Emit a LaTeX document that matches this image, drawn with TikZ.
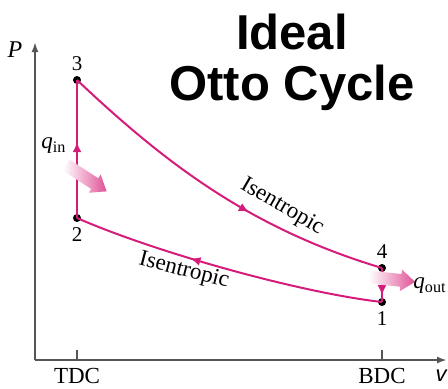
\documentclass[tikz,border=0pt]{standalone}
\usepackage{fontspec}
\setmainfont{Liberation Serif}
\setsansfont{Liberation Sans}
\usepackage{tikz}
\usetikzlibrary{arrows.meta, positioning, decorations.markings, shapes.arrows}
\definecolor{cycle}{RGB}{214, 28, 122}
\definecolor{heat}{RGB}{224, 82, 150}
\definecolor{axis}{RGB}{85, 85, 85}

\begin{document}
\begin{tikzpicture}[
    x=0.5pt, y=-0.5pt,
    axisline/.style={-{Latex[length=5pt,width=3.5pt]}, line width=1pt, draw=axis},
    tick/.style={line width=1pt, draw=axis},
    path/.style={line width=1pt, draw=cycle},
    midarrow/.style={postaction={decorate}, decoration={markings,
        mark=at position #1 with {\arrow{Latex[length=5pt,width=4.5pt]}}}},
    dot/.style={circle, fill=black, inner sep=0pt, minimum size=4pt},
    num/.style={font=\fontsize{10.5}{12}\selectfont},
    txt/.style={font=\fontsize{11.5}{13}\selectfont},
    heatarrow/.style={single arrow, draw=none, inner sep=3pt, minimum width=10.5pt,
        single arrow head extend=2.25pt, single arrow tip angle=75,
        left color=white, right color=heat},
    title/.style={font=\sffamily\bfseries\fontsize{24.5}{25.5}\selectfont, align=center}
]
    \useasboundingbox (0,0) rectangle (448,388);

    % axes
    \coordinate (origin) at (35,360);
    \coordinate (ptop) at (35,42);
    \coordinate (vend) at (447,360);
    \draw[axisline] (origin) -- (ptop);
    \draw[axisline] (origin) -- (vend);
    \node[txt, font=\itshape\fontsize{12}{14}\selectfont] (plabel) at (15,50) {P};
    \node[font=\sffamily\itshape\fontsize{11}{13}\selectfont] (vlabel) at (441,376) {v};

    % dead centres
    \coordinate (tdc) at (77,360);
    \coordinate (bdc) at (382,360);
    \draw[tick] (tdc) -- ++(0,-10);
    \draw[tick] (bdc) -- ++(0,-10);
    \node[txt] (tdclabel) at (77,376) {TDC};
    \node[txt] (bdclabel) at (382,376) {BDC};

    % states
    \node[dot, label={[num, label distance=-1pt]above:3}] (p3) at (77,80) {};
    \node[dot, label={[num, label distance=-1pt]below:2}] (p2) at (77,218) {};
    \node[dot, label={[num, label distance=-1pt]above:4}] (p4) at (382,268) {};
    \node[dot, label={[num, label distance=-1pt]below:1}] (p1) at (382,302) {};

    % processes
    \draw[path, midarrow=0.55] (p2.center) -- (p3.center);
    \draw[path, midarrow=0.6] (p3.center) .. controls (167,165) and (252,229) .. (p4.center);
    \draw[path, midarrow=0.8] (p4.center) -- (p1.center);
    \draw[path, midarrow=0.62] (p1.center) .. controls (302,293) and (157,253) .. (p2.center);

    \node[txt, rotate=-30] (upper) at (282,207) {Isentropic};
    \node[txt, rotate=-14.5] (lower) at (184,271) {Isentropic};

    % heat transfer
    \node[heatarrow, minimum height=24pt, rotate=-33] (qinarrow) at (83,176) {};
    \node[heatarrow, minimum height=23pt, rotate=-6] (qoutarrow) at (388,279) {};
    \node[txt] (qin) at (54,146) {\textit{q}\textsubscript{in}};
    \node[txt] (qout) at (430,286) {\textit{q}\textsubscript{out}};

    \node[title] (heading) at (292,62) {Ideal\\Otto Cycle};
\end{tikzpicture}
\end{document}
